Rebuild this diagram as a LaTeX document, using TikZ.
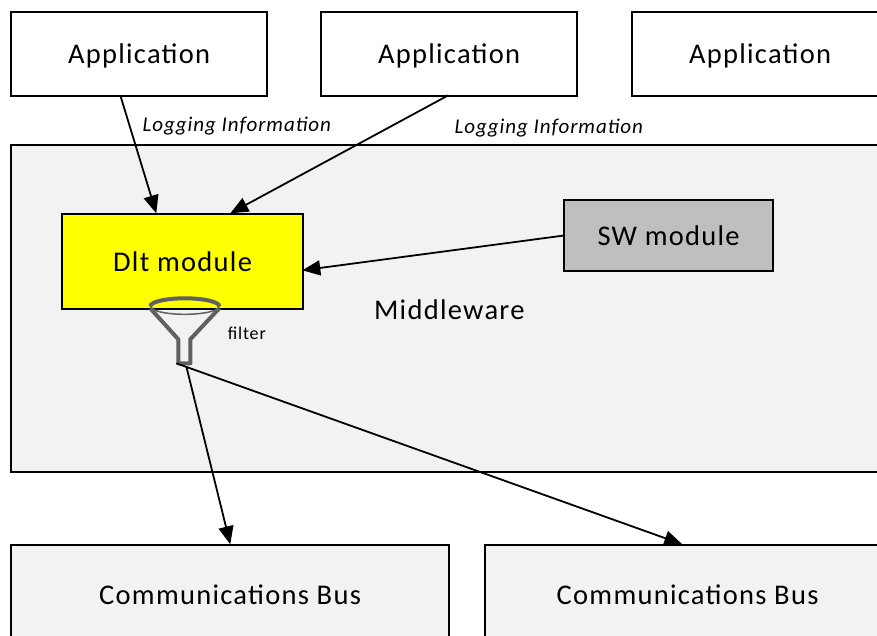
\documentclass[tikz,border=0pt]{standalone}
\usepackage{fontspec}
\setmainfont{Carlito}[LetterSpace=4.5]
\usetikzlibrary{arrows.meta}
\definecolor{pale}{RGB}{242,242,242}
\definecolor{swgray}{RGB}{191,191,191}
\definecolor{pureyellow}{RGB}{255,255,0}
\definecolor{funnelgray}{RGB}{96,96,96}
\newcommand{\lowtext}[1]{\raisebox{-2pt}[\height][\depth]{#1}}
\begin{document}
\begin{tikzpicture}[x=1pt,y=-1pt,
 box/.style={draw=black,line width=1.6pt,anchor=north west,inner sep=0pt,font=\fontsize{28.5}{32}\selectfont},
 lbl/.style={font=\itshape\fontsize{21}{24}\selectfont,inner sep=0pt},
 arr/.style={line width=1.8pt,-{Triangle[length=18pt,width=15pt]}}]
\useasboundingbox (0.7,0.7) rectangle (877.7,635.7);
\node[box,fill=white,minimum width=256,minimum height=84] (a1) at (11,12) {\lowtext{Application}};
\node[box,fill=white,minimum width=256,minimum height=84] (a2) at (321,12) {\lowtext{Application}};
\node[box,fill=white,minimum width=256,minimum height=84] (a3) at (632,12) {\lowtext{Application}};
\node[box,fill=pale,minimum width=880,minimum height=327] (mw) at (11,145) {};
\node[font=\fontsize{28.5}{32}\selectfont,inner sep=0pt] (mt) at (450,310) {Middleware};
\node[box,fill=pureyellow,minimum width=241,minimum height=95] (dlt) at (62,214) {Dlt module};
\node[box,fill=swgray,minimum width=209,minimum height=71] (sw) at (564,200) {SW module};
\node[box,fill=pale,minimum width=438,minimum height=100] (b1) at (11,545) {Communications Bus};
\node[box,fill=pale,minimum width=405,minimum height=100] (b2) at (485,545) {Communications Bus};
\node[lbl] (l1) at (237.5,126.5) {Logging Information};
\node[lbl] (l2) at (549.5,128.5) {Logging Information};
\node[font=\fontsize{18}{20}\selectfont,inner sep=0pt] (ft) at (247.5,334) {filter};
\coordinate (fo) at (177,364);
\coordinate (fb) at (187,367);
\coordinate (d1) at (157,214);
\coordinate (d2) at (231,214);
\coordinate (d3) at (303,271);
\coordinate (a1s) at (121,96);
\coordinate (a2s) at (449,96);
\coordinate (b1e) at (231,545);
\coordinate (b2e) at (683,545);
\draw[arr] (a1s) -- (d1);
\draw[arr] (a2s) -- (d2);
\draw[arr] (sw.west) -- (d3);
\draw[line width=4pt,draw=funnelgray,line join=round] (151,309) -- (179,340) -- (179,364) -- (191,364) -- (191,340) -- (220,309);
\draw[line width=4pt,draw=funnelgray] (220,307) arc[start angle=0,end angle=-180,x radius=34.5,y radius=8];
\draw[line width=1.5pt,draw=funnelgray] (220,307) arc[start angle=0,end angle=180,x radius=34.5,y radius=8];
\draw[arr] (fb) -- (b1e);
\draw[arr] (fo) -- (b2e);
\end{tikzpicture}
\end{document}
